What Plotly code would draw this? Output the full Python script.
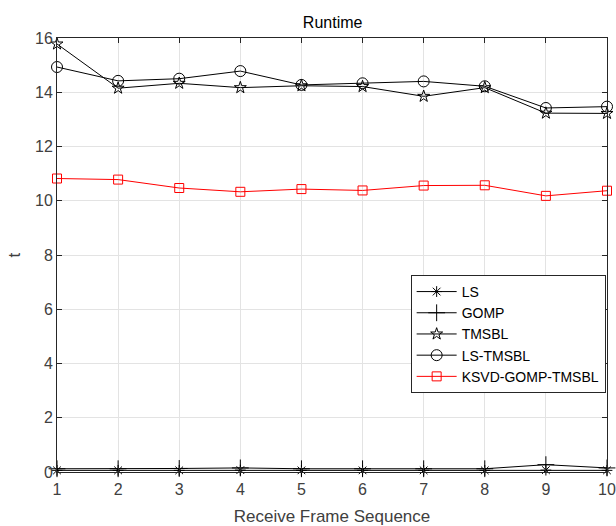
import plotly.graph_objects as go

frames = [1, 2, 3, 4, 5, 6, 7, 8, 9, 10]
ls_vals = [0.06, 0.06, 0.06, 0.07, 0.06, 0.06, 0.06, 0.06, 0.07, 0.06]
gomp_vals = [0.12, 0.12, 0.13, 0.15, 0.12, 0.12, 0.12, 0.12, 0.27, 0.15]
tmsbl_vals = [15.78, 14.15, 14.33, 14.17, 14.24, 14.21, 13.85, 14.17, 13.23, 13.22]
ls_tmsbl_vals = [14.93, 14.42, 14.50, 14.78, 14.27, 14.33, 14.40, 14.22, 13.42, 13.47]
ksvd_vals = [10.82, 10.78, 10.47, 10.33, 10.43, 10.38, 10.56, 10.57, 10.18, 10.37]

series = [
    ("LS", ls_vals, "black", "asterisk-open", 9),
    ("GOMP", gomp_vals, "black", "cross-thin-open", 12),
    ("TMSBL", tmsbl_vals, "black", "star-open", 9),
    ("LS-TMSBL", ls_tmsbl_vals, "black", "circle-open", 11),
    ("KSVD-GOMP-TMSBL", ksvd_vals, "red", "square-open", 9),
]

fig = go.Figure()
for name, vals, color, sym, size in series:
    fig.add_trace(go.Scatter(
        x=frames, y=vals, name=name, mode="lines+markers",
        line=dict(color=color, width=1),
        marker=dict(symbol=sym, size=size, color=color, line=dict(color=color, width=1)),
        cliponaxis=False,
    ))

FONT = "Liberation Sans, Arial"
axis_common = dict(
    showline=True, linecolor="#262626", linewidth=1, mirror="ticks",
    ticks="inside", ticklen=5, tickcolor="#262626",
    showgrid=True, gridcolor="#e3e3e3", gridwidth=1,
    zeroline=False,
    tickfont=dict(family=FONT, size=16, color="#404040"),
)

fig.update_layout(
    width=616, height=526,
    margin=dict(l=57, r=9, t=38, b=54),
    paper_bgcolor="white", plot_bgcolor="white",
    title=dict(text="Runtime", x=0.54, xanchor="center", y=0.958, yanchor="middle",
               font=dict(family=FONT, size=16, color="black")),
    xaxis=dict(range=[1, 10], tickvals=frames, ticklabelstandoff=3, automargin=False, **axis_common,
               title=dict(text="Receive Frame Sequence", standoff=12,
                          font=dict(family=FONT, size=17, color="#404040"))),
    yaxis=dict(range=[0, 16], tickvals=[0, 2, 4, 6, 8, 10, 12, 14, 16], automargin=False, **axis_common,
               title=dict(text="t", standoff=10,
                          font=dict(family=FONT, size=17, color="#404040"))),
    legend=dict(x=0.643, y=0.454, xanchor="left", yanchor="top",
                bgcolor="white", bordercolor="#262626", borderwidth=1,
                font=dict(family=FONT, size=14, color="black"),
                tracegroupgap=0, itemwidth=40),
    showlegend=True,
)

fig.write_html("out.html")
